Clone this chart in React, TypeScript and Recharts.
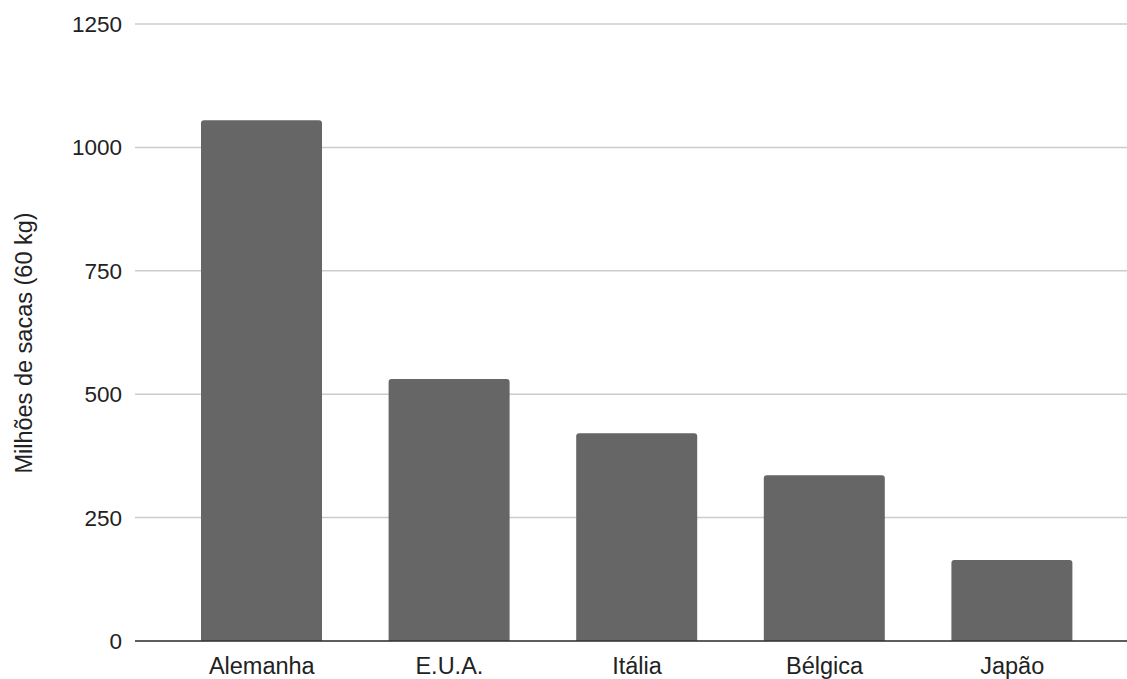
import React from 'react';
import { BarChart, Bar, XAxis, YAxis, CartesianGrid } from 'recharts';

const countries = ['Alemanha', 'E.U.A.', 'Itália', 'Bélgica', 'Japão'];
const sacks = [1055, 531, 421, 336, 164];
const yTicks = [0, 250, 500, 750, 1000, 1250];
const yTitle = 'Milhões de sacas (60 kg)';

const data = countries.map((c, i) => ({ name: c, value: sacks[i] }));

const FONT = 'Arial, "Liberation Sans", sans-serif';

export default function App() {
  return (
    <div style={{ position: 'absolute', left: 0, top: 0, background: '#fff' }}>
      <BarChart
        width={1127}
        height={679}
        data={data}
        margin={{ top: 24, right: 0, bottom: 0, left: 0 }}
      >
        <CartesianGrid vertical={false} stroke="#cccccc" strokeWidth={1.5} />
        <XAxis
          dataKey="name"
          height={38}
          padding={{ left: 33, right: 21 }}
          tickLine={false}
          tickSize={0}
          tickMargin={16}
          axisLine={{ stroke: '#333333', strokeWidth: 1.5 }}
          tick={{ fill: '#222222', fontSize: 23.5, fontFamily: FONT }}
          interval={0}
        />
        <YAxis
          width={135}
          domain={[0, 1250]}
          ticks={yTicks}
          axisLine={false}
          tickLine={false}
          tickSize={0}
          tickMargin={13}
          tick={{ fill: '#222222', fontSize: 22.5, fontFamily: FONT }}
          label={{
            content: () => (
              <text
                x={32}
                y={343}
                transform="rotate(-90 32 343)"
                textAnchor="middle"
                fill="#222222"
                fontSize={23.5}
                fontFamily={FONT}
              >
                {yTitle}
              </text>
            ),
          }}
        />
        <Bar
          dataKey="value"
          fill="#666666"
          barSize={121}
          radius={[3, 3, 0, 0]}
          isAnimationActive={false}
        />
      </BarChart>
    </div>
  );
}
